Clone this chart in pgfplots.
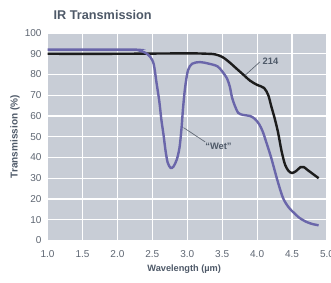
\documentclass[border=0pt]{standalone}
\usepackage{pgfplots}
\pgfplotsset{compat=1.18}
\usepackage{fontspec}
\setmainfont{Liberation Sans}
\definecolor{bg}{HTML}{C8CDD6}
\definecolor{txt}{HTML}{5E6672}
\definecolor{lab}{HTML}{4E5968}
\definecolor{wet}{HTML}{6A66AA}
\definecolor{blk}{HTML}{1C1C1C}
\begin{document}
\begin{tikzpicture}
\begin{axis}[name=ax, scale only axis, width=209.25pt, height=155.25pt,
  xmin=1, xmax=5, ymin=0, ymax=100,
  xtick={1,1.5,2,2.5,3,3.5,4,4.5,5}, ytick={0,10,20,30,40,50,60,70,80,90,100},
  grid=major, grid style={white, line width=0.9pt},
  axis background/.style={fill=bg},
  axis line style={draw=none}, major tick length=0pt,
  /pgf/number format/assume math mode=true,
  tick label style={font=\fontsize{7.5}{9}\selectfont, text=txt},
  xticklabel style={/pgf/number format/.cd, fixed, fixed zerofill, precision=1, /tikz/.cd, yshift=-4pt},
  yticklabel style={xshift=-1pt},
  xlabel={Wavelength (µm)}, ylabel={Transmission (\%)},
  ylabel style={font=\bfseries\fontsize{7.5}{9}\selectfont, text=lab, at={(axis description cs:-0.1166,0.5)}, anchor=center},
  xlabel style={font=\bfseries\fontsize{6.9}{8}\selectfont, text=lab, at={(axis description cs:0.489,-0.14)}, anchor=center},
  title={IR Transmission},
  every axis title shift=0pt,
  title style={at={(axis description cs:0.005,1.087)}, anchor=west, font=\bfseries\fontsize{9.5}{11}\selectfont, text=lab},
  clip=false]
\addplot[blk, line width=1.8pt, smooth, tension=0.5] coordinates {
(1.0,90) (2.0,90) (3.0,90.2) (3.3,90) (3.4,89.7) (3.5,88.5) (3.6,86) (3.7,83) (3.8,80) (3.9,77) (4.0,75) (4.1,73.5) (4.16,70) (4.2,65) (4.25,59) (4.3,52) (4.35,43) (4.4,36.5) (4.45,33.5) (4.5,32.5) (4.56,33.5) (4.62,35.3) (4.67,35.3) (4.72,34) (4.8,32) (4.88,30)};
\addplot[wet, line width=1.8pt, smooth, tension=0.5] coordinates {
(1.0,92) (2.2,92) (2.3,91.7) (2.4,90.5) (2.47,88.5) (2.52,85) (2.56,76) (2.6,67) (2.63,58) (2.66,51) (2.69,43) (2.72,37.5) (2.76,35) (2.8,35.5) (2.85,39) (2.89,45) (2.92,55) (2.94,64) (2.97,74) (3.01,82) (3.07,85.2) (3.18,86) (3.3,85.3) (3.43,84) (3.5,81.5) (3.57,78) (3.61,74) (3.64,69) (3.68,65) (3.73,61.5) (3.8,60.5) (3.9,60) (3.97,58.5) (4.03,56) (4.08,52.5) (4.12,48.5) (4.2,40) (4.29,29) (4.37,20.5) (4.45,16) (4.52,13.5) (4.6,11) (4.7,9) (4.8,7.8) (4.88,7.3)};
\draw[txt, line width=0.5pt] (axis cs:4.04,86.1) -- (axis cs:3.83,79.7);
\draw[txt, line width=0.5pt] (axis cs:2.946,54.4) -- (axis cs:3.256,47.5);
\node[font=\bfseries\fontsize{7}{8}\selectfont, text=lab] at (axis cs:4.19,86.6) {214};
\node[font=\bfseries\fontsize{7}{8}\selectfont, text=lab] at (axis cs:3.447,45.4) {“Wet”};
\end{axis}
\pgfresetboundingbox
\path[use as bounding box] ([xshift=-35.6pt,yshift=-31.5pt]ax.south west) rectangle ([xshift=3pt,yshift=24.75pt]ax.north east);
\end{tikzpicture}
\end{document}
